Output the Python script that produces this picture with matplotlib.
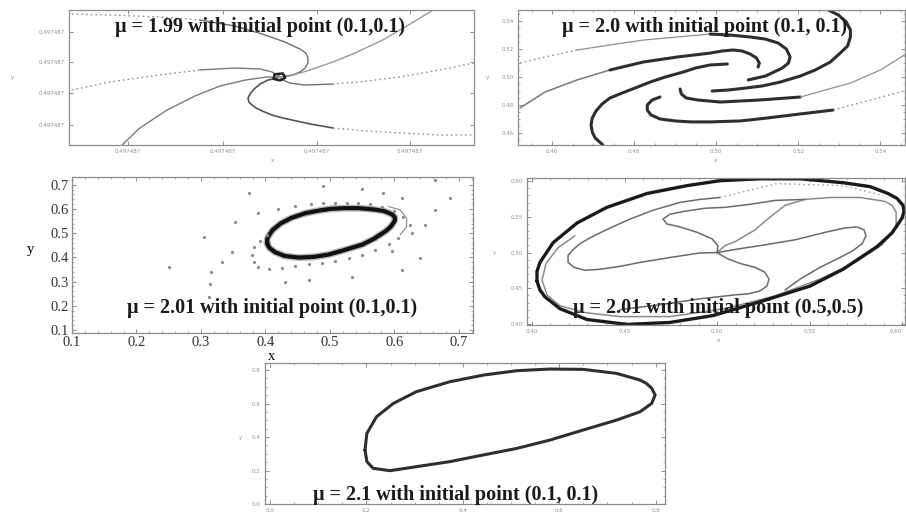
import matplotlib
matplotlib.use("Agg")
import matplotlib.pyplot as plt

# ---- orbit traces, mu = 1.99 (offsets around x = y = 0.497487, scaled to the frame)
s1_ax = [0.007, 0.101, 0.225, 0.323, 0.410, 0.477, 0.533, 0.570, 0.585, 0.590, 0.590, 0.583, 0.570, 0.553, 0.519]
s1_ay = [0.970, 0.963, 0.948, 0.926, 0.881, 0.822, 0.763, 0.711, 0.681, 0.644, 0.607, 0.570, 0.541, 0.519, 0.504]
s1_bx = [0.007, 0.101, 0.225, 0.323, 0.410, 0.472, 0.501, 0.519]
s1_by = [0.407, 0.467, 0.519, 0.556, 0.570, 0.563, 0.541, 0.511]
s1_cx = [0.131, 0.175, 0.242, 0.311, 0.373, 0.435, 0.489, 0.519]
s1_cy = [0.000, 0.126, 0.259, 0.363, 0.437, 0.481, 0.504, 0.504]
s1_dx = [0.899, 0.842, 0.775, 0.706, 0.652, 0.595, 0.546, 0.521]
s1_dy = [1.000, 0.896, 0.778, 0.681, 0.615, 0.556, 0.511, 0.504]
s1_ex = [1.000, 0.916, 0.817, 0.719, 0.652, 0.583, 0.546, 0.521]
s1_ey = [0.607, 0.556, 0.504, 0.467, 0.452, 0.444, 0.459, 0.489]
s1_fx = [0.514, 0.491, 0.472, 0.457, 0.447, 0.442, 0.444, 0.452, 0.462, 0.477, 0.501, 0.528, 0.595,
         0.652, 0.733, 0.817, 0.916, 1.000]
s1_fy = [0.496, 0.481, 0.452, 0.415, 0.378, 0.348, 0.319, 0.296, 0.274, 0.252, 0.222, 0.200, 0.156,
         0.126, 0.104, 0.089, 0.074, 0.074]
s1_core_x = [0.508, 0.528, 0.534, 0.521, 0.505, 0.508]
s1_core_y = [0.524, 0.530, 0.498, 0.478, 0.490, 0.524]
s1_ticks = [0.146, 0.380, 0.612, 0.842]
s1_yticks = [0.148, 0.385, 0.615, 0.837]

# ---- mu = 2.0, four spiral arms
s2_r1g_x = [0.4522, 0.4583, 0.4661, 0.4741, 0.4822, 0.4905, 0.4985]
s2_r1g_y = [0.5100, 0.5143, 0.5193, 0.5229, 0.5264, 0.5286, 0.5307]
s2_r1_x = [0.4985, 0.5034, 0.5083, 0.5120, 0.5151, 0.5171, 0.5180, 0.5176, 0.5161, 0.5120, 0.5078]
s2_r1_y = [0.5307, 0.5300, 0.5286, 0.5271, 0.5243, 0.5200, 0.5143, 0.5100, 0.5064, 0.5007, 0.4979]
s2_r2g_x = [0.4522, 0.4583, 0.4661, 0.4741]
s2_r2g_y = [0.4779, 0.4893, 0.4979, 0.5050]
s2_r2_x = [0.4741, 0.4822, 0.4905, 0.4985, 0.5015, 0.5041, 0.5063, 0.5083, 0.5098, 0.5105, 0.5102]
s2_r2_y = [0.5050, 0.5107, 0.5143, 0.5171, 0.5186, 0.5193, 0.5186, 0.5164, 0.5136, 0.5100, 0.5071]
s2_t_x = [0.5273, 0.5298, 0.5317, 0.5327, 0.5327, 0.5320, 0.5302, 0.5278, 0.5241, 0.5205, 0.5156,
          0.5112, 0.5071, 0.5029, 0.4990]
s2_t_y = [0.5479, 0.5443, 0.5393, 0.5336, 0.5286, 0.5221, 0.5171, 0.5107, 0.5050, 0.5007, 0.4964,
          0.4936, 0.4921, 0.4907, 0.4900]
s2_l_x = [0.4724, 0.4705, 0.4698, 0.4695, 0.4698, 0.4707, 0.4722, 0.4741, 0.4771, 0.4802, 0.4839,
          0.4876, 0.4920, 0.4949, 0.4985, 0.5027]
s2_l_y = [0.4514, 0.4564, 0.4607, 0.4657, 0.4707, 0.4757, 0.4807, 0.4850, 0.4886, 0.4921, 0.4964,
          0.5000, 0.5036, 0.5064, 0.5086, 0.5093]
s2_h_x = [0.4863, 0.4844, 0.4832, 0.4832, 0.4841, 0.4863, 0.4900, 0.4937, 0.4985, 0.5059, 0.5124,
          0.5205, 0.5285]
s2_h_y = [0.4857, 0.4836, 0.4800, 0.4764, 0.4729, 0.4700, 0.4686, 0.4679, 0.4679, 0.4686, 0.4707,
          0.4736, 0.4764]
s2_hd_x = [0.5285, 0.5376, 0.5466]
s2_hd_y = [0.4764, 0.4836, 0.4907]
s2_i_x = [0.4912, 0.4915, 0.4927, 0.4954, 0.5010, 0.5107, 0.5205]
s2_i_y = [0.4914, 0.4879, 0.4850, 0.4836, 0.4821, 0.4836, 0.4857]
s2_ig_x = [0.5205, 0.5327, 0.5400, 0.5466]
s2_ig_y = [0.4857, 0.4957, 0.5050, 0.5171]
s2_ticks = [0.46, 0.48, 0.50, 0.52, 0.54]

# ---- invariant closed curve for mu = 2.01
inv_x = [0.4027, 0.4027, 0.4043, 0.4114, 0.4243, 0.4405, 0.4622, 0.4838, 0.5016, 0.5232, 0.5449,
         0.5681, 0.5827, 0.5924, 0.5973, 0.6005, 0.6011, 0.6000, 0.5946, 0.5865, 0.5681, 0.5503,
         0.5232, 0.4978, 0.4746, 0.4514, 0.4297, 0.4151, 0.4070, 0.4043, 0.4027]
inv_y = [0.4600, 0.4738, 0.4862, 0.5138, 0.5414, 0.5634, 0.5828, 0.5938, 0.6007, 0.6034, 0.6034,
         0.5979, 0.5924, 0.5828, 0.5759, 0.5662, 0.5579, 0.5483, 0.5276, 0.5083, 0.4766, 0.4531,
         0.4310, 0.4117, 0.4021, 0.3993, 0.4062, 0.4214, 0.4379, 0.4476, 0.4600]

# iterates from (0.1, 0.1)
s3_dots_x = [0.353, 0.389, 0.420, 0.446, 0.470, 0.490, 0.508, 0.526, 0.544, 0.563, 0.581, 0.599,
             0.614, 0.625, 0.627, 0.606, 0.591, 0.570, 0.550, 0.529, 0.508, 0.488, 0.467, 0.446,
             0.426, 0.405, 0.389, 0.382, 0.379, 0.383, 0.392, 0.402,
             0.250, 0.304, 0.316, 0.314, 0.313, 0.333, 0.348, 0.374, 0.490, 0.550, 0.583, 0.612,
             0.663, 0.687, 0.663, 0.648, 0.640, 0.612, 0.596, 0.534, 0.467, 0.431]
s3_dots_y = [0.548, 0.582, 0.599, 0.612, 0.621, 0.623, 0.625, 0.625, 0.623, 0.619, 0.610, 0.593,
             0.568, 0.534, 0.499, 0.479, 0.455, 0.431, 0.410, 0.396, 0.386, 0.378, 0.371, 0.364,
             0.358, 0.352, 0.359, 0.382, 0.410, 0.442, 0.469, 0.493,
             0.362, 0.486, 0.341, 0.290, 0.238, 0.382, 0.424, 0.667, 0.695, 0.681, 0.665, 0.644,
             0.720, 0.644, 0.596, 0.534, 0.396, 0.348, 0.426, 0.320, 0.307, 0.300]
s3_arc_x = [0.591, 0.609, 0.619, 0.619, 0.609]
s3_arc_y = [0.610, 0.596, 0.561, 0.527, 0.493]
s3_ticks = [0.1, 0.2, 0.3, 0.4, 0.5, 0.6, 0.7]

# ---- arms leaving the fixed point (0.5, 0.5)
s4_a1_x = [0.500, 0.4908, 0.4746, 0.4584, 0.4476, 0.4368, 0.4286, 0.4227, 0.4195, 0.4195, 0.4222,
           0.4259, 0.4314, 0.4422, 0.4530, 0.4654, 0.4800, 0.4908, 0.5016]
s4_a1_y = [0.500, 0.4995, 0.4931, 0.4862, 0.4807, 0.4766, 0.4752, 0.4793, 0.4862, 0.4959, 0.5041,
           0.5124, 0.5207, 0.5345, 0.5469, 0.5593, 0.5703, 0.5745, 0.5772]
s4_top_x = [0.5016, 0.5324, 0.5681, 0.5897]
s4_top_y = [0.5772, 0.5966, 0.5938, 0.5800]
s4_a2_x = [0.500, 0.5005, 0.4973, 0.4886, 0.4800, 0.4730, 0.4708, 0.4746, 0.4827, 0.4935, 0.5043,
           0.5178, 0.5314, 0.5476]
s4_a2_y = [0.500, 0.5097, 0.5193, 0.5290, 0.5359, 0.5400, 0.5469, 0.5538, 0.5579, 0.5621, 0.5634,
           0.5676, 0.5731, 0.5745]
s4_a3_x = [0.500, 0.5043, 0.5097, 0.5205, 0.5286, 0.5368, 0.5476, 0.5611, 0.5773, 0.5908, 0.5946,
           0.5968, 0.5968, 0.5892, 0.5746, 0.5557, 0.5314, 0.5043, 0.4746, 0.4476, 0.4286, 0.4151,
           0.4081, 0.4054, 0.4076, 0.4141, 0.4232]
s4_a3_y = [0.500, 0.5097, 0.5152, 0.5317, 0.5497, 0.5662, 0.5745, 0.5772, 0.5772, 0.5717, 0.5662,
           0.5566, 0.5345, 0.5110, 0.4862, 0.4628, 0.4393, 0.4214, 0.4103, 0.4103, 0.4159, 0.4255,
           0.4407, 0.4614, 0.4848, 0.5069, 0.5234]
s4_a4_x = [0.500, 0.5124, 0.5232, 0.5422, 0.5595, 0.5692, 0.5757, 0.5795, 0.5805, 0.5784, 0.5735,
           0.5665, 0.5557, 0.5449, 0.5368]
s4_a4_y = [0.500, 0.5055, 0.5097, 0.5179, 0.5290, 0.5345, 0.5359, 0.5317, 0.5234, 0.5124, 0.5028,
           0.4931, 0.4793, 0.4628, 0.4476]
s4_a5_x = [0.500, 0.5054, 0.5124, 0.5205, 0.5259, 0.5281, 0.5270, 0.5232, 0.5168, 0.5097, 0.4908,
           0.4692, 0.4476]
s4_a5_y = [0.500, 0.4917, 0.4848, 0.4793, 0.4724, 0.4628, 0.4531, 0.4462, 0.4421, 0.4407, 0.4352,
           0.4269, 0.4200]
s4_xticks = [0.40, 0.45, 0.50, 0.55, 0.60]

# ---- mu = 2.1 closed orbit
s5_x = [0.197, 0.201, 0.221, 0.256, 0.304, 0.373, 0.443, 0.512, 0.581, 0.650, 0.719, 0.768, 0.781,
        0.792, 0.799, 0.792, 0.768, 0.719, 0.650, 0.581, 0.512, 0.443, 0.373, 0.304, 0.249, 0.214,
        0.201, 0.197]
s5_y = [0.322, 0.422, 0.521, 0.601, 0.671, 0.730, 0.770, 0.796, 0.806, 0.804, 0.780, 0.740, 0.720,
        0.691, 0.651, 0.601, 0.551, 0.501, 0.442, 0.382, 0.332, 0.293, 0.253, 0.223, 0.199, 0.213,
        0.253, 0.322]
s5_ticks = [0.0, 0.2, 0.4, 0.6, 0.8]

titles = ["\u03bc = 1.99 with initial point (0.1,0.1)",
          "\u03bc = 2.0 with initial point (0.1, 0.1)",
          "\u03bc = 2.01 with initial point (0.1,0.1)",
          "\u03bc = 2.01 with initial point (0.5,0.5)",
          "\u03bc = 2.1 with initial point (0.1, 0.1)"]

W, H = 906, 517
FRAME = '#8c8c8c'
GRAY = '#8f8f8f'
DARK = '#2e2e2e'
SERIF = 'Liberation Serif'


def box(left, top, right, bottom):
    return [left / W, 1 - bottom / H, (right - left) / W, (bottom - top) / H]


def frame(ax, small=True):
    for s in ax.spines.values():
        s.set_color(FRAME)
        s.set_linewidth(0.9)
    ax.tick_params(which='both', direction='in', top=True, right=True, color=FRAME)
    ax.tick_params(which='major', length=3, width=0.7)
    ax.tick_params(which='minor', length=1.5, width=0.5)
    ax.minorticks_on()
    if small:
        ax.tick_params(labelsize=4, labelcolor='#909090', pad=3)


def dotted(ax, x, y, color=GRAY, lw=1.0):
    ax.plot(x, y, color=color, lw=lw, ls=(0, (1.2, 2.2)), solid_capstyle='round')


def curve(ax, x, y, color, lw):
    ax.plot(x, y, color=color, lw=lw, solid_joinstyle='round', solid_capstyle='round')


fig = plt.figure(figsize=(W / 100, H / 100), dpi=100)
fig.patch.set_facecolor('white')

# panel 1
ax1 = fig.add_axes(box(69, 10, 474, 145))
dotted(ax1, s1_ax[:4], s1_ay[:4])
curve(ax1, s1_ax[3:], s1_ay[3:], '#6e6e6e', 1.0)
dotted(ax1, s1_bx[:4], s1_by[:4])
curve(ax1, s1_bx[3:], s1_by[3:], '#7a7a7a', 1.0)
curve(ax1, s1_cx, s1_cy, '#7a7a7a', 1.0)
curve(ax1, s1_dx, s1_dy, '#9a9a9a', 1.0)
dotted(ax1, s1_ex[:5], s1_ey[:5])
curve(ax1, s1_ex[4:], s1_ey[4:], '#6e6e6e', 1.0)
curve(ax1, s1_fx[:14], s1_fy[:14], '#555555', 1.2)
dotted(ax1, s1_fx[13:], s1_fy[13:])
curve(ax1, s1_core_x, s1_core_y, '#222222', 1.8)
ax1.set_xlim(0, 1)
ax1.set_ylim(0, 1)
ax1.set_xticks(s1_ticks)
ax1.set_yticks(s1_yticks)
ax1.set_xticklabels(['0.497487'] * 4)
ax1.set_yticklabels(['0.497487'] * 4)
frame(ax1)
ax1.minorticks_off()

# panel 2
ax2 = fig.add_axes(box(518, 10, 905, 145))
dotted(ax2, s2_r1g_x[:3], s2_r1g_y[:3])
curve(ax2, s2_r1g_x[2:], s2_r1g_y[2:], GRAY, 0.9)
curve(ax2, s2_r1_x, s2_r1_y, DARK, 2.2)
curve(ax2, s2_r2g_x, s2_r2g_y, '#777777', 1.1)
curve(ax2, s2_r2_x, s2_r2_y, DARK, 2.2)
curve(ax2, s2_t_x, s2_t_y, DARK, 2.2)
curve(ax2, s2_l_x, s2_l_y, DARK, 2.2)
curve(ax2, s2_h_x, s2_h_y, DARK, 2.2)
dotted(ax2, s2_hd_x, s2_hd_y)
curve(ax2, s2_i_x, s2_i_y, DARK, 2.2)
curve(ax2, s2_ig_x, s2_ig_y, GRAY, 0.9)
ax2.set_xlim(0.4517, 0.546)
ax2.set_ylim(0.4514, 0.5479)
ax2.set_xticks(s2_ticks)
ax2.set_yticks(s2_ticks)
ax2.set_xticklabels(['%.2f' % t for t in s2_ticks])
ax2.set_yticklabels(['%.2f' % t for t in s2_ticks])
frame(ax2)

# panel 3
ax3 = fig.add_axes(box(72, 177, 473, 333))
curve(ax3, inv_x, inv_y, '#b8b8b8', 5.0)
curve(ax3, inv_x, inv_y, '#111111', 3.0)
curve(ax3, s3_arc_x, s3_arc_y, GRAY, 0.9)
ax3.plot(s3_dots_x, s3_dots_y, ls='none', marker='o', ms=2.3, color='#8a8a8a', mec='none')
ax3.set_xlim(0.1, 0.722)
ax3.set_ylim(0.088, 0.732)
ax3.set_xticks(s3_ticks)
ax3.set_yticks(s3_ticks)
ax3.set_xticklabels(['%.1f' % t for t in s3_ticks], family=SERIF, fontsize=10.5, color='#333333')
ax3.set_yticklabels(['%.1f' % t for t in s3_ticks], family=SERIF, fontsize=10.5, color='#333333')
frame(ax3, small=False)
ax3.tick_params(pad=2)

# panel 4
ax4 = fig.add_axes(box(527, 178, 905, 325))
curve(ax4, s4_a3_x, s4_a3_y, '#8a8a8a', 1.1)
curve(ax4, s4_a1_x, s4_a1_y, '#6a6a6a', 1.1)
dotted(ax4, s4_top_x, s4_top_y, color='#a0a0a0')
curve(ax4, s4_a2_x, s4_a2_y, '#6a6a6a', 1.1)
curve(ax4, s4_a4_x, s4_a4_y, '#6a6a6a', 1.1)
curve(ax4, s4_a5_x, s4_a5_y, '#6a6a6a', 1.1)
curve(ax4, inv_x, inv_y, '#1a1a1a', 2.4)
ax4.set_xlim(0.3973, 0.6016)
ax4.set_ylim(0.3985, 0.6045)
ax4.set_xticks(s4_xticks)
ax4.set_yticks(s4_xticks)
ax4.set_xticklabels(['%.2f' % t for t in s4_xticks])
ax4.set_yticklabels(['%.2f' % t for t in s4_xticks])
ax4.get_xticklabels()[-1].set_horizontalalignment('right')
frame(ax4)

# panel 5
ax5 = fig.add_axes(box(265, 363, 665, 504))
curve(ax5, s5_x, s5_y, DARK, 2.2)
ax5.set_xlim(-0.0104, 0.8195)
ax5.set_ylim(0.0, 0.842)
ax5.set_xticks(s5_ticks)
ax5.set_yticks(s5_ticks)
ax5.set_xticklabels(['%.1f' % t for t in s5_ticks])
ax5.set_yticklabels(['%.1f' % t for t in s5_ticks])
frame(ax5)

# captions inside the frames
for (px, py), t in zip([(260, 27), (705, 27), (272, 308), (718, 308), (456, 495)], titles):
    fig.text(px / W, 1 - py / H, t, ha='center', va='center', family=SERIF,
             fontsize=14.5, fontweight='bold', color='#1a1a1a')

# axis names
fig.text(30 / W, 1 - 250 / H, 'y', family=SERIF, fontsize=10.5, ha='center', va='center')
fig.text(272 / W, 1 - 357 / H, 'x', family=SERIF, fontsize=10.5, ha='center', va='center')
for (px, py, t) in [(12, 78, 'y'), (272, 160, 'x'), (487, 77, 'y'), (715, 160, 'x'),
                    (494, 253, 'y'), (718, 340, 'x'), (240, 437, 'y')]:
    fig.text(px / W, 1 - py / H, t, fontsize=4, color='#909090', ha='center', va='center')

fig.savefig('out.png', dpi=100, facecolor='white')
